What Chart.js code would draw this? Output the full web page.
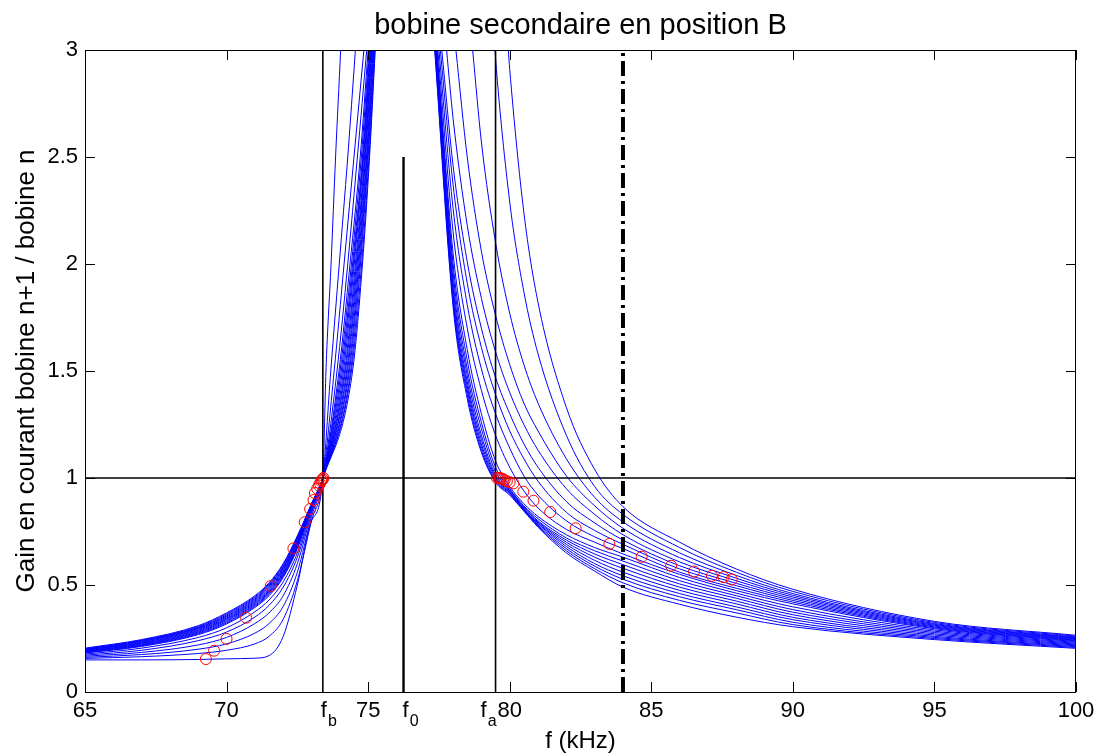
<!DOCTYPE html>
<html>
<head>
<meta charset="utf-8">
<title>bobine secondaire en position B</title>
<script src="https://cdn.jsdelivr.net/npm/chart.js@4.4.1/dist/chart.umd.min.js"></script>
<style>
  html, body { margin: 0; padding: 0; background: #fff; }
  canvas { display: block; }
</style>
</head>
<body>
<canvas id="chart" width="1102" height="753"></canvas>
<script>
// left branches: gain read on this frequency grid (kHz), all meet at (73.4, 1)
const leftFreqs = [65, 67, 69, 70, 71, 71.5, 72, 72.5, 73, 73.4];
const leftGain = [
  [0.150, 0.150, 0.152, 0.155, 0.158, 0.170, 0.260, 0.500, 0.800, 1],
  [0.157, 0.165, 0.180, 0.195, 0.225, 0.260, 0.340, 0.520, 0.800, 1],
  [0.162, 0.175, 0.200, 0.225, 0.275, 0.320, 0.400, 0.560, 0.820, 1],
  [0.167, 0.185, 0.220, 0.255, 0.320, 0.370, 0.450, 0.600, 0.835, 1],
  [0.172, 0.195, 0.240, 0.280, 0.350, 0.405, 0.490, 0.630, 0.845, 1],
  [0.177, 0.205, 0.255, 0.300, 0.375, 0.430, 0.515, 0.650, 0.855, 1],
  [0.182, 0.213, 0.268, 0.318, 0.395, 0.450, 0.535, 0.670, 0.860, 1],
  [0.184, 0.216, 0.272, 0.323, 0.400, 0.456, 0.541, 0.675, 0.862, 1],
  [0.186, 0.219, 0.276, 0.328, 0.405, 0.461, 0.547, 0.681, 0.864, 1],
  [0.188, 0.222, 0.280, 0.333, 0.410, 0.467, 0.553, 0.686, 0.866, 1],
  [0.190, 0.225, 0.284, 0.338, 0.415, 0.472, 0.559, 0.692, 0.868, 1],
  [0.192, 0.228, 0.288, 0.342, 0.420, 0.478, 0.565, 0.697, 0.870, 1],
  [0.194, 0.231, 0.292, 0.346, 0.425, 0.483, 0.571, 0.703, 0.872, 1],
  [0.196, 0.234, 0.296, 0.351, 0.430, 0.489, 0.577, 0.708, 0.874, 1],
  [0.198, 0.237, 0.299, 0.355, 0.435, 0.494, 0.583, 0.714, 0.876, 1],
  [0.200, 0.240, 0.302, 0.360, 0.440, 0.499, 0.589, 0.719, 0.878, 1],
  [0.202, 0.242, 0.306, 0.365, 0.445, 0.505, 0.595, 0.725, 0.879, 1],
  [0.205, 0.245, 0.310, 0.370, 0.450, 0.510, 0.600, 0.730, 0.880, 1]
];
// above the crossing the left branches are steep, so read the frequency at these gains
const leftLevels = [1.5, 2, 2.5, 3];
const leftLevelFreqs = [
  [73.51, 73.69, 73.85, 74.03],
  [73.68, 73.98, 74.28, 74.55],
  [73.80, 74.15, 74.50, 74.85],
  [73.90, 74.28, 74.62, 74.95],
  [73.97, 74.36, 74.72, 75.00],
  [74.01, 74.41, 74.76, 75.03],
  [74.05, 74.45, 74.80, 75.05],
  [74.09, 74.48, 74.82, 75.07],
  [74.13, 74.51, 74.84, 75.09],
  [74.17, 74.55, 74.87, 75.10],
  [74.20, 74.58, 74.89, 75.12],
  [74.24, 74.61, 74.91, 75.14],
  [74.27, 74.64, 74.94, 75.16],
  [74.31, 74.67, 74.96, 75.18],
  [74.34, 74.70, 74.98, 75.20],
  [74.38, 74.73, 75.00, 75.22],
  [74.41, 74.77, 75.03, 75.24],
  [74.45, 74.80, 75.05, 75.25]
];

// right branches: frequency where each one comes down through gain 3
const rightTopFreq = [79.95, 79.48, 78.69, 78.10, 77.77, 77.60, 77.55, 77.50, 77.46,
                      77.43, 77.42, 77.41, 77.40, 77.39, 77.38, 77.37, 77.36, 77.35];
const rightTopGain = 3;
const rightFreqs = [78, 78.5, 79, 79.5, 80, 80.5, 81, 82, 83, 84, 86, 88, 90, 95, 100];
const rightGain = [
  [null, null, null, null, 2.91, 2.24, 1.82, 1.33, 1.04, 0.866, 0.700, 0.575, 0.480, 0.330, 0.265],
  [null, null, null, 2.96, 2.29, 1.87, 1.58, 1.20, 0.96, 0.830, 0.675, 0.560, 0.470, 0.325, 0.261],
  [null, null, 2.57, 2.10, 1.77, 1.53, 1.35, 1.09, 0.91, 0.795, 0.650, 0.545, 0.460, 0.320, 0.257],
  [null, 2.50, 2.06, 1.76, 1.53, 1.35, 1.22, 1.01, 0.87, 0.765, 0.628, 0.532, 0.452, 0.316, 0.254],
  [2.68, 2.18, 1.84, 1.59, 1.40, 1.25, 1.13, 0.95, 0.83, 0.735, 0.608, 0.520, 0.444, 0.312, 0.251],
  [2.46, 2.01, 1.70, 1.47, 1.30, 1.16, 1.05, 0.89, 0.79, 0.710, 0.590, 0.508, 0.436, 0.308, 0.248],
  [2.37, 1.91, 1.61, 1.39, 1.22, 1.09, 0.985, 0.84, 0.755, 0.690, 0.575, 0.497, 0.428, 0.304, 0.245],
  [2.26, 1.81, 1.51, 1.30, 1.14, 1.01, 0.92, 0.80, 0.725, 0.670, 0.560, 0.485, 0.420, 0.300, 0.242],
  [2.15, 1.70, 1.41, 1.20, 1.05, 0.94, 0.86, 0.76, 0.700, 0.645, 0.550, 0.474, 0.412, 0.296, 0.239],
  [2.05, 1.60, 1.30, 1.08, 0.96, 0.88, 0.82, 0.735, 0.675, 0.630, 0.535, 0.462, 0.398, 0.290, 0.236],
  [2.00, 1.55, 1.26, 1.05, 0.95, 0.87, 0.81, 0.72, 0.660, 0.612, 0.520, 0.450, 0.385, 0.284, 0.232],
  [1.96, 1.51, 1.23, 1.03, 0.945, 0.865, 0.80, 0.71, 0.645, 0.595, 0.505, 0.438, 0.373, 0.278, 0.228],
  [1.92, 1.48, 1.20, 1.015, 0.94, 0.86, 0.795, 0.70, 0.630, 0.578, 0.490, 0.425, 0.361, 0.272, 0.224],
  [1.89, 1.45, 1.18, 1.005, 0.935, 0.855, 0.79, 0.69, 0.615, 0.560, 0.475, 0.412, 0.349, 0.266, 0.220],
  [1.86, 1.43, 1.16, 0.998, 0.932, 0.852, 0.786, 0.68, 0.600, 0.543, 0.460, 0.398, 0.338, 0.260, 0.216],
  [1.84, 1.41, 1.145, 0.99, 0.93, 0.85, 0.78, 0.67, 0.588, 0.527, 0.445, 0.385, 0.326, 0.255, 0.212],
  [1.82, 1.39, 1.13, 0.985, 0.925, 0.848, 0.775, 0.66, 0.576, 0.510, 0.428, 0.370, 0.315, 0.250, 0.208],
  [1.80, 1.37, 1.12, 0.98, 0.92, 0.845, 0.77, 0.65, 0.565, 0.490, 0.410, 0.350, 0.305, 0.245, 0.204]
];

// red circles
const circleFreqs = [69.27, 69.56, 70.0, 70.69, 71.56, 72.36, 72.76, 72.95, 73.07, 73.12, 73.2,
                     73.26, 73.3, 73.34, 73.37, 73.4, 73.42,
                     79.55, 79.6, 79.65, 79.7, 79.76, 79.82, 79.9, 80.0, 80.13, 80.48, 80.84,
                     81.43, 82.33, 83.52, 84.66, 85.7, 86.51, 87.14, 87.55, 87.84];
const circleGain = [0.154, 0.193, 0.248, 0.347, 0.495, 0.671, 0.793, 0.855, 0.897, 0.93, 0.95,
                    0.965, 0.975, 0.985, 0.99, 0.995, 1.0,
                    1.0, 1.0, 1.0, 0.998, 0.995, 0.99, 0.985, 0.98, 0.975, 0.936, 0.894,
                    0.841, 0.765, 0.692, 0.632, 0.590, 0.563, 0.543, 0.537, 0.526];

// reference lines
const fb = 73.4, f0 = 76.25, fa = 79.5, fLimit = 84;
const f0Height = 2.5;
const unityGain = 1;

const xTicks = [65, 70, 75, 80, 85, 90, 95, 100];
const yTicks = [0, 0.5, 1, 1.5, 2, 2.5, 3];
const freqMarks = [
  { f: fb, sub: 'b', dx: -2 },
  { f: f0, sub: '0', dx: -1 },
  { f: fa, sub: 'a', dx: -15 }
];

const FONT = 'Arial, "Liberation Sans", Helvetica, sans-serif';
const BLUE = '#0000ff';

function curve(points) {
  return {
    data: points,
    borderColor: BLUE,
    borderWidth: 1,
    pointRadius: 0,
    cubicInterpolationMode: 'monotone',
    order: 3
  };
}

function straight(points, width, dash) {
  return {
    data: points,
    borderColor: '#000',
    borderWidth: width,
    borderDash: dash || [],
    pointRadius: 0,
    tension: 0,
    order: 2
  };
}

const datasets = [];
leftGain.forEach((row, k) => {
  const pts = leftFreqs.map((f, i) => ({ x: f, y: row[i] }));
  leftLevels.forEach((g, j) => pts.push({ x: leftLevelFreqs[k][j], y: g }));
  datasets.push(curve(pts));
});
rightGain.forEach((row, k) => {
  const pts = [{ x: rightTopFreq[k], y: rightTopGain }];
  rightFreqs.forEach((f, i) => {
    if (row[i] !== null) pts.push({ x: f, y: row[i] });
  });
  datasets.push(curve(pts));
});

datasets.push(straight([{ x: xTicks[0], y: unityGain }, { x: xTicks[xTicks.length - 1], y: unityGain }], 1.3));
datasets.push(straight([{ x: fb, y: 0 }, { x: fb, y: 3 }], 1.6));
datasets.push(straight([{ x: fa, y: 0 }, { x: fa, y: 3 }], 1.6));
datasets.push(straight([{ x: f0, y: 0 }, { x: f0, y: f0Height }], 2.4));
datasets.push(straight([{ x: fLimit, y: 0 }, { x: fLimit, y: 3 }], 4, [15, 5, 3, 5]));

datasets.push({
  data: circleFreqs.map((f, i) => ({ x: f, y: circleGain[i] })),
  showLine: false,
  pointRadius: 5.5,
  pointStyle: 'circle',
  pointBorderColor: '#ff0000',
  pointBackgroundColor: 'rgba(0,0,0,0)',
  pointBorderWidth: 1,
  order: 1
});

// MATLAB-like box, inner ticks and the text around the axes
const frame = {
  id: 'frame',
  afterDatasetsDraw(chart) {
    const { ctx, chartArea: a, scales: { x, y } } = chart;
    ctx.save();
    ctx.strokeStyle = '#000';
    ctx.lineWidth = 1;
    ctx.strokeRect(a.left + 0.5, a.top + 0.5, a.right - a.left - 1, a.bottom - a.top);
    ctx.beginPath();
    xTicks.forEach(v => {
      const px = Math.round(x.getPixelForValue(v)) + 0.5;
      ctx.moveTo(px, a.bottom); ctx.lineTo(px, a.bottom - 10);
      ctx.moveTo(px, a.top); ctx.lineTo(px, a.top + 10);
    });
    yTicks.forEach(v => {
      const py = Math.round(y.getPixelForValue(v)) + 0.5;
      ctx.moveTo(a.left, py); ctx.lineTo(a.left + 10, py);
      ctx.moveTo(a.right, py); ctx.lineTo(a.right - 10, py);
    });
    ctx.stroke();
    ctx.restore();
  },
  afterDraw(chart) {
    const { ctx, chartArea: a, scales: { x } } = chart;
    const cx = (a.left + a.right) / 2;
    ctx.save();
    ctx.fillStyle = '#000';
    ctx.textAlign = 'center';
    ctx.textBaseline = 'middle';
    ctx.font = '29px ' + FONT;
    ctx.fillText('bobine secondaire en position B', cx, 26);
    ctx.font = '24px ' + FONT;
    ctx.fillText('f (kHz)', cx, 741);
    ctx.save();
    ctx.translate(27, (a.top + a.bottom) / 2);
    ctx.rotate(-Math.PI / 2);
    ctx.font = '26px ' + FONT;
    ctx.fillText('Gain en courant bobine n+1 / bobine n', 0, 0);
    ctx.restore();

    ctx.textAlign = 'left';
    ctx.textBaseline = 'alphabetic';
    freqMarks.forEach(m => {
      const px = x.getPixelForValue(m.f) + m.dx;
      ctx.font = '22px ' + FONT;
      ctx.fillText('f', px, 717);
      const w = ctx.measureText('f').width;
      ctx.font = '16px ' + FONT;
      ctx.fillText(m.sub, px + w + 1, 726);
    });
    ctx.restore();
  }
};

new Chart(document.getElementById('chart'), {
  type: 'line',
  data: { datasets },
  options: {
    responsive: false,
    animation: false,
    events: [],
    layout: { padding: { top: 50, right: 26, left: 0, bottom: 0 } },
    plugins: {
      legend: { display: false },
      tooltip: { enabled: false },
      title: { display: false }
    },
    scales: {
      x: {
        type: 'linear',
        min: 65,
        max: 100,
        afterBuildTicks: s => { s.ticks = xTicks.map(v => ({ value: v })); },
        afterFit: s => { s.height = 61; },
        grid: { display: false, drawTicks: false },
        border: { display: false },
        ticks: { color: '#000', padding: 6, maxRotation: 0, font: { family: FONT, size: 22 },
                 callback: v => String(v) }
      },
      y: {
        type: 'linear',
        min: 0,
        max: 3,
        afterBuildTicks: s => { s.ticks = yTicks.map(v => ({ value: v })); },
        afterFit: s => { s.width = 85; },
        grid: { display: false, drawTicks: false },
        border: { display: false },
        ticks: { color: '#000', padding: 7, font: { family: FONT, size: 22 },
                 callback: v => String(v) }
      }
    }
  },
  plugins: [frame]
});
</script>
</body>
</html>
